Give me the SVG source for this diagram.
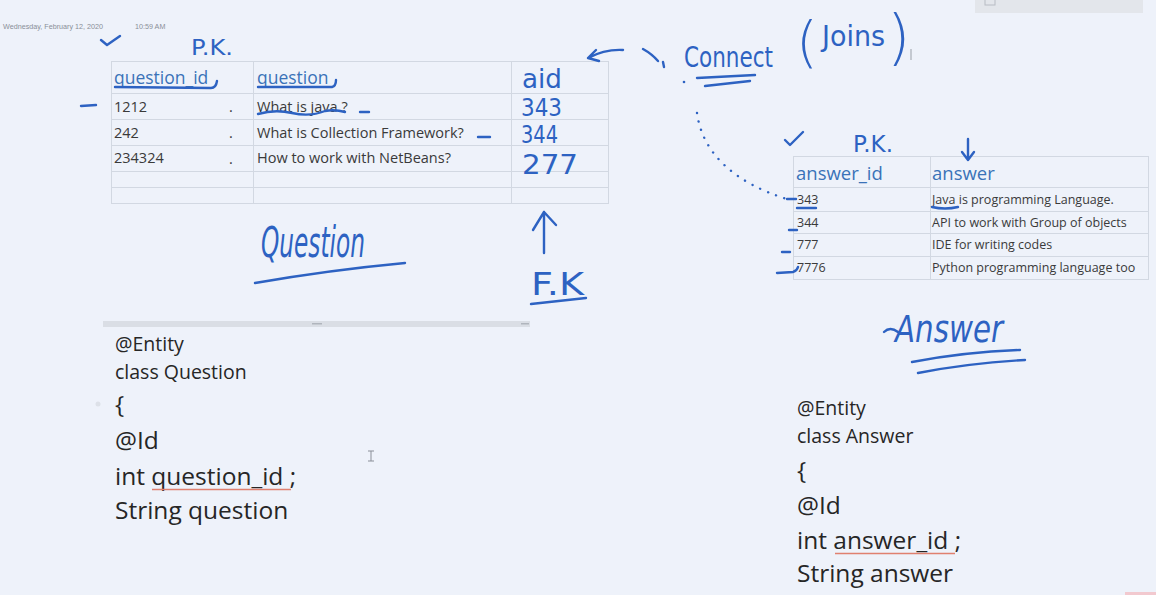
<svg xmlns="http://www.w3.org/2000/svg" width="1156" height="595" viewBox="0 0 1156 595">
<style>
.grid{fill:none;stroke:#d2d8e2;stroke-width:1}
.hdr{font-family:"Open Sans",sans-serif;fill:#3a72b8}
.cell{font-family:"Open Sans",sans-serif;fill:#3a3a3a}
.code{font-family:"Open Sans",sans-serif;fill:#262626}
.ink{font-family:"DejaVu Sans",sans-serif;fill:#2d62c2}
.pen{fill:none;stroke:#2d62c2;stroke-width:2.4;stroke-linecap:round;stroke-linejoin:round}
.spell{fill:none;stroke:#e0806f;stroke-width:1.3}
</style>
<rect width="1156" height="595" fill="#eef2fa"/>

<g id="page-header">
  <text x="3" y="29" font-family="Liberation Sans, sans-serif" font-size="7.2" fill="#8a8f98">Wednesday, February 12, 2020</text>
  <text x="135" y="29" font-family="Liberation Sans, sans-serif" font-size="7.2" fill="#8a8f98">10:59 AM</text>
  <rect x="975" y="-2" width="168" height="15" fill="#e3e6eb"/>
  <rect x="985" y="-4" width="10" height="9" fill="none" stroke="#b8bcc4" stroke-width="1"/>
</g>

<g id="question-table">
  <rect class="grid" x="111.5" y="61.5" width="497" height="142"/>
  <line class="grid" x1="253.5" y1="61.5" x2="253.5" y2="203.5"/>
  <line class="grid" x1="511.5" y1="61.5" x2="511.5" y2="203.5"/>
  <line class="grid" x1="111.5" y1="93.5" x2="608.5" y2="93.5"/>
  <line class="grid" x1="111.5" y1="119.5" x2="608.5" y2="119.5"/>
  <line class="grid" x1="111.5" y1="145.5" x2="608.5" y2="145.5"/>
  <line class="grid" x1="111.5" y1="171.5" x2="608.5" y2="171.5"/>
  <line class="grid" x1="111.5" y1="187.5" x2="608.5" y2="187.5"/>
  <text class="hdr" x="114" y="84" font-size="17.5">question_id</text>
  <text class="hdr" x="257" y="84" font-size="17.5">question</text>
  <text class="cell" x="114" y="112" font-size="14.5">1212</text>
  <text class="cell" x="114" y="138" font-size="14.5">242</text>
  <text class="cell" x="114" y="163" font-size="14.5">234324</text>
  <text class="cell" x="229" y="112" font-size="14.5">.</text>
  <text class="cell" x="229" y="138" font-size="14.5">.</text>
  <text class="cell" x="229" y="164" font-size="14.5">.</text>
  <text class="cell" x="257" y="112" font-size="14.5">What is java ?</text>
  <text class="cell" x="257" y="138" font-size="14.5">What is Collection Framework?</text>
  <text class="cell" x="257" y="163" font-size="14.5">How to work with NetBeans?</text>
  <text class="ink" x="522" y="88" font-size="27" textLength="40" lengthAdjust="spacingAndGlyphs">aid</text>
  <text class="ink" x="521" y="116" font-size="24" textLength="41" lengthAdjust="spacingAndGlyphs">343</text>
  <text class="ink" x="521" y="143" font-size="24" textLength="37" lengthAdjust="spacingAndGlyphs">344</text>
  <text class="ink" x="522" y="174" font-size="27" textLength="56" lengthAdjust="spacingAndGlyphs">277</text>
</g>

<g id="question-marks">
  <path class="pen" d="M101 40 L107 45 L120 36"/>
  <text class="ink" x="191" y="55" font-size="22" textLength="42" lengthAdjust="spacingAndGlyphs">P.K.</text>
  <path class="pen" d="M81 106 L96 105"/>
  <path class="pen" d="M115 87 L211 88 Q216 88 217 81" stroke-width="2"/>
  <path class="pen" d="M258 87 L332 87 Q336 86 336 80" stroke-width="2"/>
  <path class="pen" d="M258 114 Q275 109 292 113 Q310 117 325 111 Q335 109 345 112" stroke-width="2"/>
  <path class="pen" d="M360 112 L369 112" stroke-width="2"/>
  <path class="pen" d="M478 137 L490 137" stroke-width="2"/>
  <text class="ink" x="261" y="257" font-size="42" font-style="italic" textLength="104" lengthAdjust="spacingAndGlyphs">Question</text>
  <path class="pen" d="M255 283 Q330 270 405 263"/>
</g>

<g id="fk-label">
  <text class="ink" x="531" y="295" font-size="32" textLength="53" lengthAdjust="spacingAndGlyphs">F.K</text>
  <path class="pen" d="M531 304 L586 298"/>
</g>

<g id="answer-table">
  <rect class="grid" x="793.5" y="156.5" width="355" height="123"/>
  <line class="grid" x1="930.5" y1="156.5" x2="930.5" y2="279.5"/>
  <line class="grid" x1="793.5" y1="187.5" x2="1148.5" y2="187.5"/>
  <line class="grid" x1="793.5" y1="211.5" x2="1148.5" y2="211.5"/>
  <line class="grid" x1="793.5" y1="233.5" x2="1148.5" y2="233.5"/>
  <line class="grid" x1="793.5" y1="256.5" x2="1148.5" y2="256.5"/>
  <text class="hdr" x="796" y="180" font-size="18.5">answer_id</text>
  <text class="hdr" x="932" y="180" font-size="18.5">answer</text>
  <text class="cell" x="797" y="204" font-size="12.5">343</text>
  <text class="cell" x="797" y="227" font-size="12.5">344</text>
  <text class="cell" x="797" y="249" font-size="12.5">777</text>
  <text class="cell" x="797" y="272" font-size="12.5">7776</text>
  <text class="cell" x="932" y="204" font-size="12.5">Java is programming Language.</text>
  <text class="cell" x="932" y="227" font-size="12.5">API to work with Group of objects</text>
  <text class="cell" x="932" y="249" font-size="12.5">IDE for writing codes</text>
  <text class="cell" x="932" y="272" font-size="12.5">Python programming language too</text>
</g>

<g id="answer-marks">
  <path class="pen" d="M785 140 L790 145 L803 132"/>
  <text class="ink" x="853" y="152" font-size="23" textLength="40" lengthAdjust="spacingAndGlyphs">P.K.</text>
  <path class="pen" d="M968 139 L968 160 M962 152 L968 160 L974 152" stroke-width="2"/>
  <path class="pen" d="M787 199 L796 199" stroke-width="2"/>
  <path class="pen" d="M797 208 L816 208" stroke-width="2.2"/>
  <path class="pen" d="M932 207 Q945 210 958 207" stroke-width="2.2"/>
  <path class="pen" d="M789 230 L797 230" stroke-width="2"/>
  <path class="pen" d="M782 252 L790 252" stroke-width="2"/>
  <path class="pen" d="M777 273 L793 272 Q797 271 798 267" stroke-width="2"/>
  <text class="ink" x="895" y="342" font-size="38" font-style="italic" textLength="108" lengthAdjust="spacingAndGlyphs">Answer</text>
  <path class="pen" d="M884 332 Q890 326 898 332"/>
  <path class="pen" d="M912 362 Q965 352 1020 350"/>
  <path class="pen" d="M918 373 Q970 363 1025 360"/>
</g>

<g id="connect-label">
  <text class="ink" x="684" y="67" font-size="28" textLength="89" lengthAdjust="spacingAndGlyphs">Connect</text>
  <path class="pen" d="M697 78 L755 75" stroke-width="2.8"/>
  <path class="pen" d="M705 86 L750 81"/>
  <text class="ink" x="796" y="61" font-size="56" font-weight="300">(</text>
  <text class="ink" x="822" y="46" font-size="28" textLength="63" lengthAdjust="spacingAndGlyphs">Joins</text>
  <text class="ink" x="887" y="58" font-size="60" font-weight="300">)</text>
  <line x1="911" y1="49" x2="911" y2="60" stroke="#9aa0a8" stroke-width="1"/>
</g>

<g id="connectors">
  <path class="pen" d="M623 50 Q605 49 588 58 M588 58 L596 50 M588 58 L599 61" stroke-width="2.2"/>
  <path class="pen" d="M643 49 Q652 54 658 61 M663 62 L664 67" stroke-width="2"/>
  <circle cx="684" cy="82" r="1.3" fill="#2d62c2"/>
  <path class="pen" d="M697 113 C702 150 730 182 790 200" stroke-width="2.2" stroke-dasharray="0.1 8.5"/>
  <path class="pen" d="M544 253 L544 212 M533 230 L544 212 L556 225"/>
</g>

<g id="separator">
  <rect x="103" y="321" width="427" height="6" fill="#dadee5"/>
  <rect x="312" y="323" width="10" height="1.5" fill="#b0b5bd"/>
  <rect x="521" y="323" width="8" height="1.5" fill="#b0b5bd"/>
</g>

<g id="question-class">
  <text class="code" x="115" y="351" font-size="19.5">@Entity</text>
  <text class="code" x="115" y="379" font-size="19.5">class Question</text>
  <text class="code" x="115" y="413" font-size="24.5">{</text>
  <text class="code" x="115" y="449" font-size="24.5">@Id</text>
  <text class="code" x="115" y="485" font-size="24.5">int question_id ;</text>
  <path class="spell" d="M152 489.5 L291 489.5"/>
  <text class="code" x="115" y="519" font-size="24.5">String question</text>
  <circle cx="98" cy="404" r="2.5" fill="#dde1e8"/>
  <path d="M368 451 L374 451 M371 451 L371 461 M368 461 L374 461" stroke="#8a8f98" stroke-width="1" fill="none"/>
</g>

<g id="answer-class">
  <text class="code" x="797" y="415" font-size="19.5">@Entity</text>
  <text class="code" x="797" y="443" font-size="19.5">class Answer</text>
  <text class="code" x="797" y="479" font-size="24.5">{</text>
  <text class="code" x="797" y="514" font-size="24.5">@Id</text>
  <text class="code" x="797" y="549" font-size="24.5">int answer_id ;</text>
  <path class="spell" d="M835 553.5 L955 553.5"/>
  <text class="code" x="797" y="582" font-size="24.5">String answer</text>
  <rect x="1125" y="592" width="31" height="3" fill="#f2c9cf"/>
</g>
</svg>
